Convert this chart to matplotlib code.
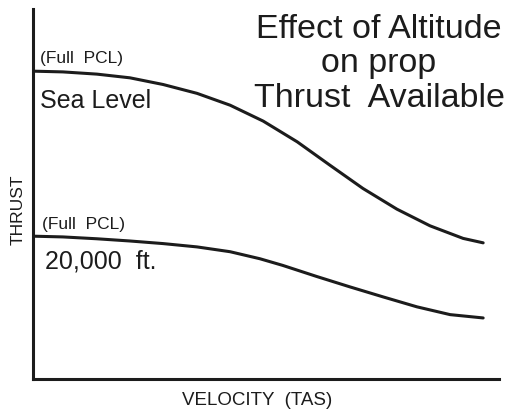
import matplotlib
matplotlib.use('Agg')
import matplotlib.pyplot as plt

W, H = 508, 410

# velocity (arbitrary units, 0..10) and available thrust (arbitrary units, 0..10)
sea_level_v = [0.0, 0.64, 1.37, 2.08, 2.79, 3.52, 4.23, 4.94, 5.67, 6.37, 7.08, 7.81, 8.52, 9.23, 9.66]
sea_level_t = [8.32, 8.30, 8.24, 8.14, 7.96, 7.72, 7.40, 6.97, 6.41, 5.78, 5.15, 4.59, 4.14, 3.80, 3.68]

alt20k_v = [0.0, 0.64, 1.37, 2.08, 2.79, 3.52, 4.23, 4.87, 5.36, 6.09, 6.80, 7.51, 8.24, 8.95, 9.66]
alt20k_t = [3.86, 3.84, 3.79, 3.73, 3.66, 3.57, 3.44, 3.25, 3.07, 2.77, 2.49, 2.22, 1.95, 1.74, 1.65]

title_lines = ['Effect of Altitude', 'on prop', 'Thrust  Available']

ink = '#1c1c1c'
plt.rcParams['font.family'] = ['Liberation Sans', 'DejaVu Sans']

fig = plt.figure(figsize=(W / 100, H / 100), dpi=100, facecolor='white')
ax = fig.add_axes([33 / W, 1 - 380 / H, 466 / W, 370 / H])
ax.set_xlim(0, 10)
ax.set_ylim(0, 10)
for side in ('top', 'right'):
  ax.spines[side].set_visible(False)
for side in ('left', 'bottom'):
  ax.spines[side].set_linewidth(2.2)
  ax.spines[side].set_color(ink)
ax.set_xticks([])
ax.set_yticks([])

for v, t in [(sea_level_v, sea_level_t), (alt20k_v, alt20k_t)]:
  ax.plot(v, t, color=ink, lw=2.2, solid_capstyle='round', solid_joinstyle='round')

def px_text(x, y, s, **kw):
  kw.setdefault('color', ink)
  kw.setdefault('va', 'baseline')
  fig.text(x / W, 1 - y / H, s, **kw)

for y, line in zip([38, 72, 107], title_lines):
  px_text(379, y, line, ha='center', fontsize=24.5)

px_text(40, 63, '(Full  PCL)', fontsize=12.5)
px_text(40, 108, 'Sea Level', fontsize=18)
px_text(42, 229, '(Full  PCL)', fontsize=12.5)
px_text(45, 268, '20,000  ft.', fontsize=18)

px_text(18, 210, 'THRUST', rotation=90, ha='center', va='center', fontsize=12.5)
px_text(257, 405, 'VELOCITY  (TAS)', ha='center', fontsize=13.5)

fig.savefig('out.png', dpi=100, facecolor='white')
